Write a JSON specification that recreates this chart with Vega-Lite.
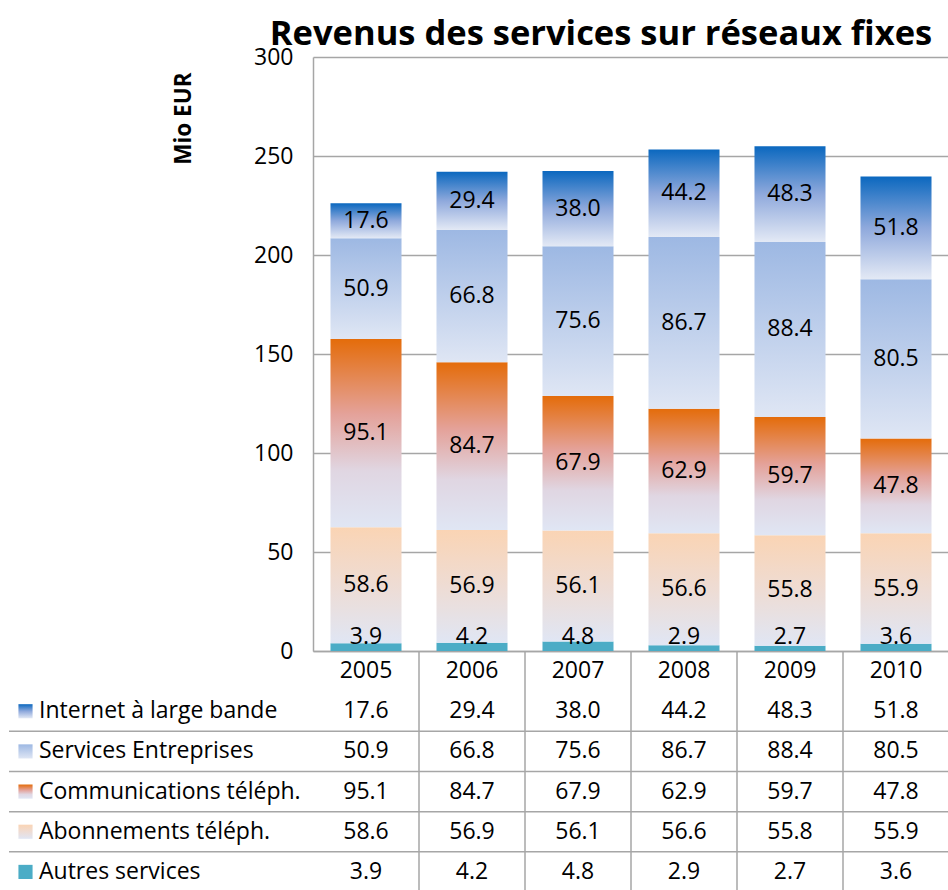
{
  "$schema": "https://vega.github.io/schema/vega-lite/v6.json",
  "padding": {"left": 8, "top": 16, "right": 0, "bottom": 0},
  "background": "#ffffff",
  "bounds": "flush",
  "spacing": 0,
  "columns": 2,
  "config": {
    "view": {"stroke": null},
    "font": "Open Sans",
    "text": {"color": "#000000"},
    "axisY": {
      "grid": true, "gridColor": "#a6a6a6", "gridWidth": 1.5,
      "domainColor": "#a6a6a6", "domainWidth": 1.5,
      "ticks": false, "labelFontSize": 23, "labelColor": "#000000", "labelPadding": 20, "labelFont": "Open Sans",
      "tickCount": 6,
      "titleFontSize": 22.5, "titleFontWeight": "bold", "titleColor": "#000000", "titleFont": "Open Sans",
      "titleAnchor": "end", "titlePadding": 58, "titleY": 15
    }
  },
  "datasets": {
    "rev": [
      {"year": "2005", "serie": "Internet à large bande", "value": 17.6},
      {"year": "2005", "serie": "Services Entreprises", "value": 50.9},
      {"year": "2005", "serie": "Communications téléph.", "value": 95.1},
      {"year": "2005", "serie": "Abonnements téléph.", "value": 58.6},
      {"year": "2005", "serie": "Autres services", "value": 3.9},
      {"year": "2006", "serie": "Internet à large bande", "value": 29.4},
      {"year": "2006", "serie": "Services Entreprises", "value": 66.8},
      {"year": "2006", "serie": "Communications téléph.", "value": 84.7},
      {"year": "2006", "serie": "Abonnements téléph.", "value": 56.9},
      {"year": "2006", "serie": "Autres services", "value": 4.2},
      {"year": "2007", "serie": "Internet à large bande", "value": 38.0},
      {"year": "2007", "serie": "Services Entreprises", "value": 75.6},
      {"year": "2007", "serie": "Communications téléph.", "value": 67.9},
      {"year": "2007", "serie": "Abonnements téléph.", "value": 56.1},
      {"year": "2007", "serie": "Autres services", "value": 4.8},
      {"year": "2008", "serie": "Internet à large bande", "value": 44.2},
      {"year": "2008", "serie": "Services Entreprises", "value": 86.7},
      {"year": "2008", "serie": "Communications téléph.", "value": 62.9},
      {"year": "2008", "serie": "Abonnements téléph.", "value": 56.6},
      {"year": "2008", "serie": "Autres services", "value": 2.9},
      {"year": "2009", "serie": "Internet à large bande", "value": 48.3},
      {"year": "2009", "serie": "Services Entreprises", "value": 88.4},
      {"year": "2009", "serie": "Communications téléph.", "value": 59.7},
      {"year": "2009", "serie": "Abonnements téléph.", "value": 55.8},
      {"year": "2009", "serie": "Autres services", "value": 2.7},
      {"year": "2010", "serie": "Internet à large bande", "value": 51.8},
      {"year": "2010", "serie": "Services Entreprises", "value": 80.5},
      {"year": "2010", "serie": "Communications téléph.", "value": 47.8},
      {"year": "2010", "serie": "Abonnements téléph.", "value": 55.9},
      {"year": "2010", "serie": "Autres services", "value": 3.6}
    ]
  },
  "concat": [
    {
      "width": 304, "height": 594,
      "data": {"values": []},
      "mark": "point"
    },
    {
      "width": 636, "height": 594,
      "title": {"text": "Revenus des services sur réseaux fixes", "fontSize": 34.5, "font": "Open Sans", "fontWeight": "bold", "color": "#000000", "anchor": "middle", "dx": -30, "frame": "group", "offset": -6},
      "data": {"name": "rev"},
      "transform": [
        {"calculate": "indexof(['Autres services','Abonnements téléph.','Communications téléph.','Services Entreprises','Internet à large bande'], datum.serie)", "as": "k"},
        {"stack": "value", "groupby": ["year"], "sort": [{"field": "k", "order": "ascending"}], "as": ["v0", "v1"]},
        {"calculate": "max((datum.v0 + datum.v1) / 2, 7)", "as": "mid"}
      ],
      "encoding": {
        "x": {"field": "year", "type": "nominal", "scale": {"paddingInner": 0.33, "paddingOuter": 0.165},
              "axis": {"title": null, "labels": false, "ticks": false, "domainColor": "#a6a6a6", "domainWidth": 1.5}}
      },
      "layer": [
        {
          "transform": [{"filter": "datum.serie === 'Autres services'"}],
          "mark": {"type": "bar", "fill": "#4bacc6"},
          "encoding": {
            "y": {"field": "v0", "type": "quantitative", "title": "Mio EUR", "scale": {"domain": [0, 300], "nice": false}},
            "y2": {"field": "v1"}
          }
        },
        {
          "transform": [{"filter": "datum.serie === 'Abonnements téléph.'"}],
          "mark": {"type": "bar", "fill": {"gradient": "linear", "x1": 0, "y1": 0, "x2": 0, "y2": 1,
            "stops": [{"offset": 0, "color": "#fad4b4"}, {"offset": 0.5, "color": "#eedcd4"}, {"offset": 1, "color": "#e0e6f4"}]}},
          "encoding": {
            "y": {"field": "v0", "type": "quantitative", "title": "Mio EUR"},
            "y2": {"field": "v1"}
          }
        },
        {
          "transform": [{"filter": "datum.serie === 'Communications téléph.'"}],
          "mark": {"type": "bar", "fill": {"gradient": "linear", "x1": 0, "y1": 0, "x2": 0, "y2": 1,
            "stops": [{"offset": 0, "color": "#e46c0a"}, {"offset": 0.4, "color": "#e4a29a"}, {"offset": 0.7, "color": "#e0d6e2"}, {"offset": 1, "color": "#e0e6f4"}]}},
          "encoding": {
            "y": {"field": "v0", "type": "quantitative", "title": "Mio EUR"},
            "y2": {"field": "v1"}
          }
        },
        {
          "transform": [{"filter": "datum.serie === 'Services Entreprises'"}],
          "mark": {"type": "bar", "fill": {"gradient": "linear", "x1": 0, "y1": 0, "x2": 0, "y2": 1,
            "stops": [{"offset": 0, "color": "#9db8e3"}, {"offset": 1, "color": "#dfe6f4"}]}},
          "encoding": {
            "y": {"field": "v0", "type": "quantitative", "title": "Mio EUR"},
            "y2": {"field": "v1"}
          }
        },
        {
          "transform": [{"filter": "datum.serie === 'Internet à large bande'"}],
          "mark": {"type": "bar", "fill": {"gradient": "linear", "x1": 0, "y1": 0, "x2": 0, "y2": 1,
            "stops": [{"offset": 0, "color": "#0b68bf"}, {"offset": 0.5, "color": "#8fa9dc"}, {"offset": 1, "color": "#e3e9f5"}]}},
          "encoding": {
            "y": {"field": "v0", "type": "quantitative", "title": "Mio EUR"},
            "y2": {"field": "v1"}
          }
        },
        {
          "mark": {"type": "text", "fontSize": 23, "baseline": "middle"},
          "encoding": {
            "y": {"field": "mid", "type": "quantitative", "title": "Mio EUR"},
            "text": {"field": "value", "type": "quantitative", "format": ".1f"}
          }
        }
      ]
    },
    {
      "width": 304, "height": 241,
      "data": {"name": "rev"},
      "transform": [{"filter": "datum.year === '2005'"}],
      "encoding": {
        "y": {"field": "serie", "type": "nominal", "axis": null,
              "scale": {"domain": ["hdr", "Internet à large bande", "Services Entreprises", "Communications téléph.", "Abonnements téléph.", "Autres services"], "paddingInner": 0, "paddingOuter": 0}}
      },
      "layer": [
        {
          "transform": [{"filter": "datum.serie === 'Internet à large bande'"}],
          "mark": {"type": "square", "size": 200, "filled": true, "opacity": 1, "fill": {"gradient": "linear", "x1": 0, "y1": 0, "x2": 0, "y2": 1,
            "stops": [{"offset": 0, "color": "#0b68bf"}, {"offset": 0.5, "color": "#8fa9dc"}, {"offset": 1, "color": "#e3e9f5"}]}},
          "encoding": {"x": {"value": 16.5}}
        },
        {
          "transform": [{"filter": "datum.serie === 'Services Entreprises'"}],
          "mark": {"type": "square", "size": 200, "filled": true, "opacity": 1, "fill": {"gradient": "linear", "x1": 0, "y1": 0, "x2": 0, "y2": 1,
            "stops": [{"offset": 0, "color": "#9db8e3"}, {"offset": 1, "color": "#dfe6f4"}]}},
          "encoding": {"x": {"value": 16.5}}
        },
        {
          "transform": [{"filter": "datum.serie === 'Communications téléph.'"}],
          "mark": {"type": "square", "size": 200, "filled": true, "opacity": 1, "fill": {"gradient": "linear", "x1": 0, "y1": 0, "x2": 0, "y2": 1,
            "stops": [{"offset": 0, "color": "#e46c0a"}, {"offset": 0.4, "color": "#e4a29a"}, {"offset": 0.7, "color": "#e0d6e2"}, {"offset": 1, "color": "#e0e6f4"}]}},
          "encoding": {"x": {"value": 16.5}}
        },
        {
          "transform": [{"filter": "datum.serie === 'Abonnements téléph.'"}],
          "mark": {"type": "square", "size": 200, "filled": true, "opacity": 1, "fill": {"gradient": "linear", "x1": 0, "y1": 0, "x2": 0, "y2": 1,
            "stops": [{"offset": 0, "color": "#fad4b4"}, {"offset": 0.5, "color": "#eedcd4"}, {"offset": 1, "color": "#e0e6f4"}]}},
          "encoding": {"x": {"value": 16.5}}
        },
        {
          "transform": [{"filter": "datum.serie === 'Autres services'"}],
          "mark": {"type": "square", "size": 200, "filled": true, "opacity": 1, "fill": "#4bacc6"},
          "encoding": {"x": {"value": 16.5}}
        },
        {
          "mark": {"type": "text", "align": "left", "baseline": "middle", "fontSize": 23},
          "encoding": {"x": {"value": 30}, "text": {"field": "serie", "type": "nominal"}}
        },
        {
          "transform": [{"filter": "datum.serie !== 'Internet à large bande'"}],
          "mark": {"type": "rule", "color": "#a6a6a6", "strokeWidth": 1.5},
          "encoding": {"y": {"field": "serie", "type": "nominal", "bandPosition": 0}}
        }
      ]
    },
    {
      "width": 636, "height": 241,
      "data": {"name": "rev"},
      "layer": [
        {
          "mark": {"type": "text", "fontSize": 23, "baseline": "middle"},
          "encoding": {
            "x": {"field": "year", "type": "nominal", "axis": null, "scale": {"paddingInner": 0, "paddingOuter": 0}},
            "y": {"field": "serie", "type": "nominal", "axis": null,
                  "scale": {"domain": ["hdr", "Internet à large bande", "Services Entreprises", "Communications téléph.", "Abonnements téléph.", "Autres services"], "paddingInner": 0, "paddingOuter": 0}},
            "text": {"field": "value", "type": "quantitative", "format": ".1f"}
          }
        },
        {
          "transform": [{"filter": "datum.serie === 'Autres services'"}],
          "mark": {"type": "text", "fontSize": 23, "baseline": "middle"},
          "encoding": {
            "x": {"field": "year", "type": "nominal"},
            "y": {"datum": "hdr", "type": "nominal"},
            "text": {"field": "year", "type": "nominal"}
          }
        },
        {
          "transform": [{"filter": "datum.year === '2005' && datum.serie !== 'Internet à large bande'"}],
          "mark": {"type": "rule", "color": "#a6a6a6", "strokeWidth": 1.5},
          "encoding": {"y": {"field": "serie", "type": "nominal", "bandPosition": 0}}
        },
        {
          "transform": [{"filter": "datum.serie === 'Autres services' && datum.year !== '2005'"}],
          "mark": {"type": "rule", "color": "#a6a6a6", "strokeWidth": 1.5},
          "encoding": {"x": {"field": "year", "type": "nominal", "bandPosition": 0}}
        }
      ]
    }
  ]
}
